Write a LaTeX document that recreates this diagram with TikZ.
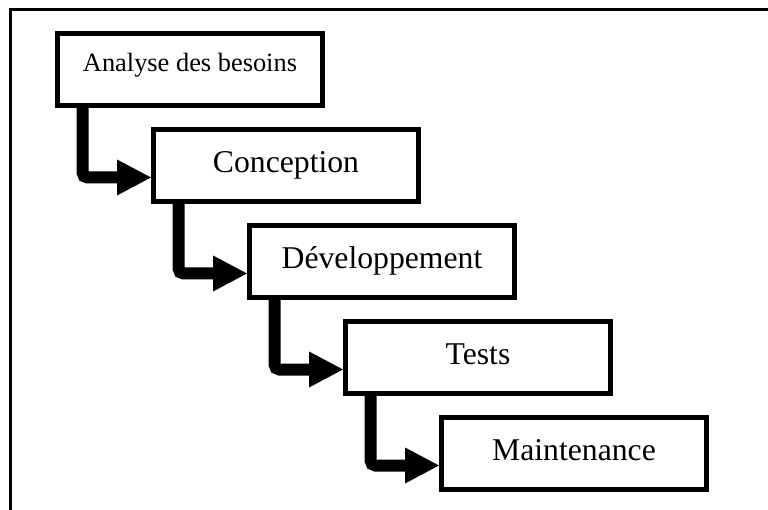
\documentclass[tikz,border=0pt]{standalone}
\usepackage{fontspec}
\setmainfont{Liberation Serif}
\usetikzlibrary{arrows.meta,calc}
\begin{document}
\begin{tikzpicture}[x=1pt,y=-1pt,
  stepbox/.style={draw=black,line width=5pt,fill=white,minimum width=265pt,minimum height=72pt,
    inner sep=0pt,text height=14pt,text depth=0pt,font=\fontsize{31.7}{36}\selectfont},
  smallbox/.style={stepbox,text height=4pt,font=\fontsize{26.4}{30}\selectfont},
  conn/.style={line width=12pt,rounded corners=5pt,
    -{Triangle[length=34pt,width=36pt,line width=0pt]}},
  frameline/.style={line width=2.5pt}]
\useasboundingbox (0,0) rectangle (768,510);
\draw[frameline] (768,9.5) -| (10.5,511);
\node[smallbox] (b1) at (190,69.5) {Analyse des besoins};
\node[stepbox] (b2) at (286,165.5) {Conception};
\node[stepbox] (b3) at (382,261.5) {Développement};
\node[stepbox] (b4) at (478,357.5) {Tests};
\node[stepbox] (b5) at (574,453.5) {Maintenance};
\draw[conn] ($(b1.south west)+(27.5,-2)$) |- ($(b2.west)+(0,12)$);
\draw[conn] ($(b2.south west)+(27.5,-2)$) |- ($(b3.west)+(0,12)$);
\draw[conn] ($(b3.south west)+(27.5,-2)$) |- ($(b4.west)+(0,12)$);
\draw[conn] ($(b4.south west)+(27.5,-2)$) |- ($(b5.west)+(0,12)$);
\end{tikzpicture}
\end{document}
